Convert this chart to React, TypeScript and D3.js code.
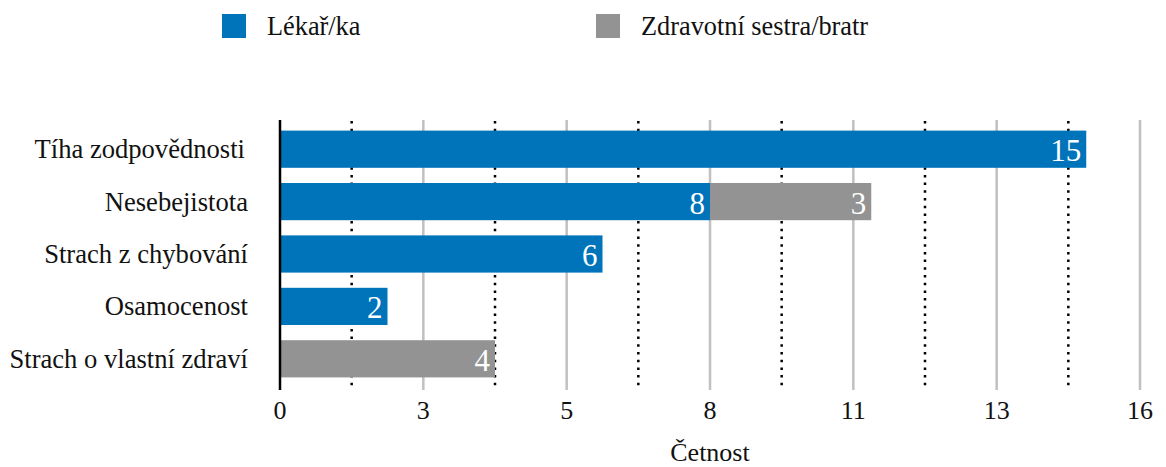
import React from "react";
import * as d3 from "d3";

const categories = [
  "Tíha zodpovědnosti",
  "Nesebejistota",
  "Strach z chybování",
  "Osamocenost",
  "Strach o vlastní zdraví",
];
const seriesNames = ["Lékař/ka", "Zdravotní sestra/bratr"];
const lekar = [15, 8, 6, 2, 0];
const sestra = [0, 3, 0, 0, 4];
const tickLabels = ["0", "3", "5", "8", "11", "13", "16"];
const xMax = 16;
const colors = ["#0074BA", "#939393"];

const W = 1166;
const H = 467;
const FONT = '"Liberation Serif", "DejaVu Serif", serif';

export default function App() {
  const x = d3.scaleLinear().domain([0, xMax]).range([280, 1140]);
  const y = d3
    .scaleBand<string>()
    .domain(categories)
    .range([123, 385])
    .paddingInner(0.29)
    .paddingOuter(0.145);

  const rows = categories.map((c, i) => ({ cat: c, a: lekar[i], b: sestra[i] }));
  const stacked = d3.stack<any>().keys(["a", "b"])(rows);

  const step = xMax / (tickLabels.length - 1);
  const majors = tickLabels.map((_, i) => i * step);
  const minors = majors.slice(0, -1).map((v) => v + step / 2);

  const gTop = 120;
  const gBot = 390;
  const ts = { fontFamily: FONT };

  return (
    <svg
      width={W}
      height={H}
      style={{ position: "absolute", left: 0, top: 0, background: "#fff", fontFamily: FONT }}
    >
      {/* legend */}
      {seriesNames.map((n, i) => {
        const lx = i === 0 ? 222 : 596;
        return (
          <g key={n}>
            <rect x={lx} y={14} width={24} height={24} fill={colors[i]} />
            <text x={lx + 45} y={35} fontSize={26.3} fill="#111" style={ts}>
              {n}
            </text>
          </g>
        );
      })}

      {/* grid */}
      {majors.slice(1).map((v, i) => (
        <line
          key={"M" + i}
          x1={x(v)}
          x2={x(v)}
          y1={gTop}
          y2={gBot}
          stroke="#c0c0c0"
          strokeWidth={2.5}
        />
      ))}
      {minors.map((v, i) => (
        <line
          key={"m" + i}
          x1={x(v)}
          x2={x(v)}
          y1={gTop + 1}
          y2={gBot}
          stroke="#000"
          strokeWidth={2.5}
          strokeDasharray="2.5 5.2"
        />
      ))}

      {/* bars */}
      {stacked.map((s, si) =>
        s.map((d, i) => {
          const v = d[1] - d[0];
          if (v <= 0) return null;
          const cat = categories[i];
          const y0 = y(cat)!;
          const bw = y.bandwidth();
          return (
            <g key={si + "-" + i}>
              <rect
                x={x(d[0])}
                y={y0}
                width={x(d[1]) - x(d[0])}
                height={bw}
                fill={colors[si]}
              />
              <text
                x={x(d[1]) - 5}
                y={y0 + bw / 2 + 12}
                textAnchor="end"
                fontSize={31}
                fill="#fff"
                style={ts}
              >
                {v}
              </text>
            </g>
          );
        })
      )}

      {/* axis line */}
      <line x1={x(0)} x2={x(0)} y1={gTop} y2={gBot} stroke="#000" strokeWidth={2.5} />

      {/* category labels */}
      {categories.map((c, i) => (
        <text
          key={c}
          x={i === 0 ? 245 : 248}
          y={y(c)! + y.bandwidth() / 2 + 9}
          textAnchor="end"
          fontSize={26.6}
          fill="#111"
          style={ts}
        >
          {c}
        </text>
      ))}

      {/* tick labels */}
      {majors.map((v, i) => (
        <text key={"t" + i} x={x(v)} y={419} textAnchor="middle" fontSize={26} fill="#111" style={ts}>
          {tickLabels[i]}
        </text>
      ))}

      <text x={(x(0) + x(xMax)) / 2} y={461} textAnchor="middle" fontSize={26} fill="#111" style={ts}>
        Četnost
      </text>
    </svg>
  );
}
